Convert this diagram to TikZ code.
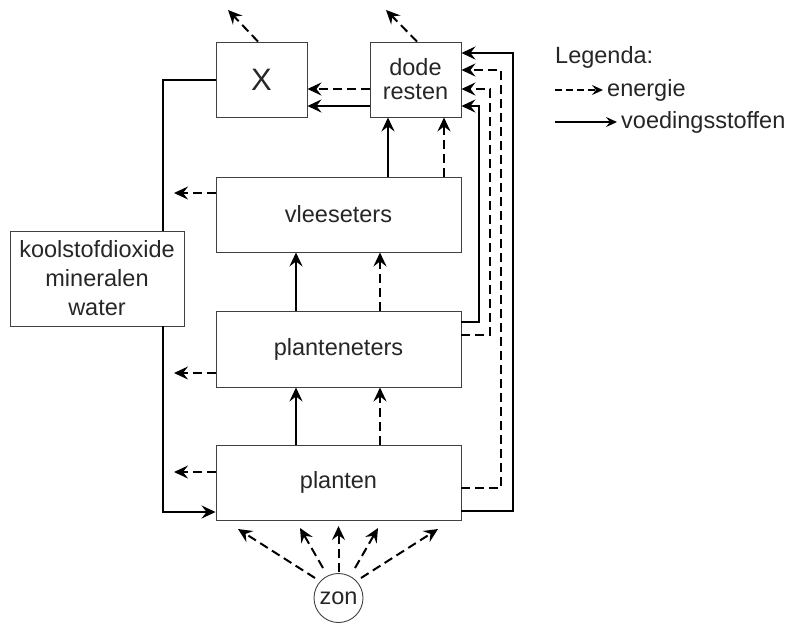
\documentclass[tikz,border=0pt]{standalone}
\usepackage{fontspec}
\setmainfont{Liberation Sans}
\usetikzlibrary{arrows.meta,calc}
\begin{document}
\begin{tikzpicture}[x=1pt,y=-1pt,
  box/.style={draw=black!75, line width=0.9pt, inner sep=0pt, text=black!85,
    font=\fontsize{23.5}{24}\selectfont, align=center},
  flow/.style={line width=2pt, line join=miter,
    -{Stealth[length=14pt,width=13pt,inset=5pt]}},
  en/.style={flow, dash pattern=on 9pt off 5pt},
  nu/.style={flow},
  plain/.style={line width=2pt},
  legen/.style={line width=1.8pt, dash pattern=on 7pt off 4pt,
    -{Stealth[length=11pt,width=10pt,inset=4pt]}},
  legnu/.style={line width=1.8pt, -{Stealth[length=11pt,width=10pt,inset=4pt]}},
  lbl/.style={text=black!85, font=\fontsize{23.5}{24}\selectfont,
    inner sep=0pt, anchor=base west}]
\useasboundingbox (0,0) rectangle (789,622);

% boxes
\node[box, minimum width=91pt, minimum height=75pt,
      font=\fontsize{31}{31}\selectfont] (X) at (261.5,79.5) {X};
\node[box, minimum width=91pt, minimum height=75pt] (dode) at (415.5,79.5) {dode\\resten};
\node[box, minimum width=245pt, minimum height=75pt] (vlees) at (338.5,214.5) {vleeseters};
\node[box, minimum width=245pt, minimum height=76pt] (plantet) at (338.5,349) {planteneters};
\node[box, minimum width=245pt, minimum height=75pt] (planten) at (338.5,482.5) {planten};
\node[box, minimum width=174pt, minimum height=95pt,
      font=\fontsize{23.5}{29}\selectfont] (kool) at (97,278.5) {koolstofdioxide\\mineralen\\water};
\node[box, circle, minimum size=49pt] (zon) at (338.5,598) {zon};

% free ends
\coordinate (xt) at (228,10);
\coordinate (dt) at (386,10);
\coordinate (vl) at (174,193);
\coordinate (pel) at (174,373);
\coordinate (pal) at (174,472);
\coordinate (z1) at (238,529);
\coordinate (z2) at (300,528);
\coordinate (z3) at (338.5,526);
\coordinate (z4) at (378,528);
\coordinate (z5) at (438,529);

% top outflows
\draw[en] ([xshift=-3.5pt]X.north) -- (xt);
\draw[en] ([xshift=1.5pt]dode.north) -- (dt);

% dode resten -> X
\draw[en] (dode.west |- 0,89) -- (X.east |- 0,89);
\draw[nu] (dode.west |- 0,106) -- (X.east |- 0,106);

% upward flows
\draw[nu] (vlees.north -| 388,0) -- (dode.south -| 388,0);
\draw[en] (vlees.north -| 444,0) -- (dode.south -| 444,0);
\draw[nu] (plantet.north -| 296,0) -- (vlees.south -| 296,0);
\draw[en] (plantet.north -| 380,0) -- (vlees.south -| 380,0);
\draw[nu] (planten.north -| 296,0) -- (plantet.south -| 296,0);
\draw[en] (planten.north -| 380,0) -- (plantet.south -| 380,0);

% right loops to dode resten
\draw[nu] (plantet.east |- 0,322) -| (479,106) -- (dode.east |- 0,106);
\draw[en] (plantet.east |- 0,335) -| (490,89) -- (dode.east |- 0,89);
\draw[en] (planten.east |- 0,488) -| (501,70) -- (dode.east |- 0,70);
\draw[nu] (planten.east |- 0,511) -| (513,53) -- (dode.east |- 0,53);

% left side
\draw[plain] (X.west |- 0,80) -| (kool.north -| 163,0);
\draw[nu] (kool.south -| 163,0) |- (planten.west |- 0,512);
\draw[en] (vlees.west |- 0,193) -- (vl);
\draw[en] (plantet.west |- 0,373) -- (pel);
\draw[en] (planten.west |- 0,472) -- (pal);

% sun rays
\draw[en] ($(zon.center)+(-23.5,-20)$) -- (z1);
\draw[en] ($(zon.center)+(-15.5,-30)$) -- (z2);
\draw[en] ($(zon.center)+(0,-26)$) -- (z3);
\draw[en] ($(zon.center)+(16.5,-30)$) -- (z4);
\draw[en] ($(zon.center)+(22.5,-20)$) -- (z5);

% legend
\node[lbl] (leg) at (555,63) {Legenda:};
\coordinate (l1a) at (555,90);
\coordinate (l1b) at (603,90);
\coordinate (l2a) at (555,122);
\coordinate (l2b) at (617,122);
\draw[legen] (l1a) -- (l1b);
\draw[legnu] (l2a) -- (l2b);
\node[lbl] (le1) at (607,96) {energie};
\node[lbl] (le2) at (621,128) {voedingsstoffen};
\end{tikzpicture}
\end{document}
